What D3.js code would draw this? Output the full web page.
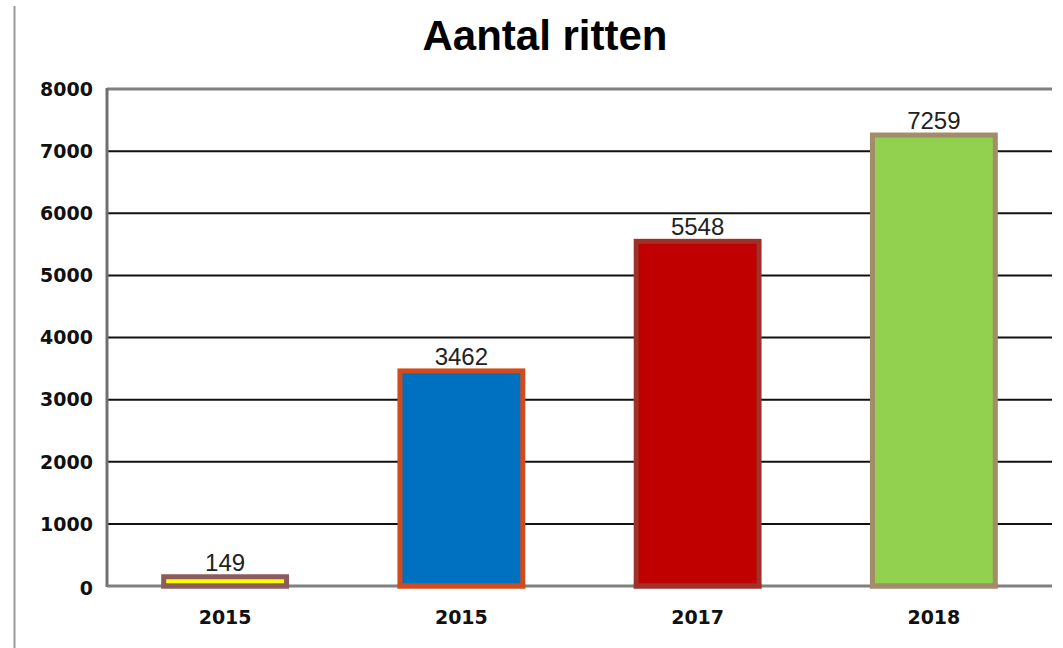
<!DOCTYPE html>
<html><head><meta charset="utf-8">
<script src="https://cdn.jsdelivr.net/npm/d3@7"></script>
<style>html,body{margin:0;padding:0;background:#fff;}svg{display:block;}</style>
</head><body>
<svg id="c" width="1063" height="648"></svg>
<script>
const categories = ["2015", "2015", "2017", "2018"];
const values = [149, 3462, 5548, 7259];
const fills = ["#ffff00", "#0070c0", "#c00000", "#92d050"];
const strokes = ["#8c5c5c", "#d24b1c", "#a0302a", "#a28c6a"];
const yTicks = [0, 1000, 2000, 3000, 4000, 5000, 6000, 7000, 8000];
const title = "Aantal ritten";

const svg = d3.select("#c");
const L = 107, R = 1052, T = 89, B = 586;
const x = d3.scaleBand().domain(d3.range(categories.length)).range([L, R]).paddingInner(0.48).paddingOuter(0.24);
const y = d3.scaleLinear().domain([0, 8000]).range([B, T]);

// outer left line
svg.append("line").attr("x1", 14.5).attr("x2", 14.5).attr("y1", 6).attr("y2", 648)
  .attr("stroke", "#999").attr("stroke-width", 2);

// title
svg.append("text").attr("x", 545).attr("y", 50).attr("text-anchor", "middle")
  .attr("font-family", "Liberation Sans, Arial, sans-serif").attr("font-weight", "bold")
  .attr("font-size", 42).attr("fill", "#000").text(title);

// gridlines
svg.append("g").selectAll("line").data(yTicks.filter(d => d > 0 && d < 8000)).join("line")
  .attr("x1", L).attr("x2", R).attr("y1", d => y(d)).attr("y2", d => y(d))
  .attr("stroke", "#111").attr("stroke-width", 2);
// top border
svg.append("line").attr("x1", L).attr("x2", R).attr("y1", y(8000)).attr("y2", y(8000))
  .attr("stroke", "#808080").attr("stroke-width", 3);

// y labels
svg.append("g").selectAll("text").data(yTicks).join("text")
  .attr("x", 93).attr("y", d => y(d) + (d === 0 ? 2 : 0)).attr("dy", "0.36em").attr("text-anchor", "end")
  .attr("font-family", "DejaVu Sans, sans-serif").attr("font-weight", "bold").attr("font-size", 19)
  .attr("fill", "#111").text(d => d);

// bars
const bw = x.bandwidth();
svg.append("g").selectAll("rect").data(values).join("rect")
  .attr("x", (d, i) => x(i)).attr("width", bw)
  .attr("y", d => y(d)).attr("height", d => B - y(d))
  .attr("fill", (d, i) => fills[i]).attr("stroke", (d, i) => strokes[i]).attr("stroke-width", 5);

// left & bottom axis
svg.append("line").attr("x1", L).attr("x2", L).attr("y1", y(8000) - 1).attr("y2", B + 1)
  .attr("stroke", "#707070").attr("stroke-width", 3);
svg.append("line").attr("x1", L).attr("x2", R).attr("y1", B).attr("y2", B)
  .attr("stroke", "#808080").attr("stroke-width", 3);
// redraw bar bottoms over axis
svg.append("g").selectAll("line").data(values).join("line")
  .attr("x1", (d, i) => x(i) - 2.5).attr("x2", (d, i) => x(i) + bw + 2.5)
  .attr("y1", B).attr("y2", B).attr("stroke", (d, i) => strokes[i]).attr("stroke-width", 5);

// value labels
svg.append("g").selectAll("text").data(values).join("text")
  .attr("x", (d, i) => x(i) + bw / 2).attr("y", d => y(d) - 6).attr("text-anchor", "middle")
  .attr("font-family", "Liberation Sans, Arial, sans-serif").attr("font-size", 24)
  .attr("fill", "#222").text(d => d);

// x labels
svg.append("g").selectAll("text").data(categories).join("text")
  .attr("x", (d, i) => x(i) + bw / 2).attr("y", 624).attr("text-anchor", "middle")
  .attr("font-family", "DejaVu Sans, sans-serif").attr("font-weight", "bold").attr("font-size", 19)
  .attr("fill", "#111").text(d => d);
</script>
</body></html>
